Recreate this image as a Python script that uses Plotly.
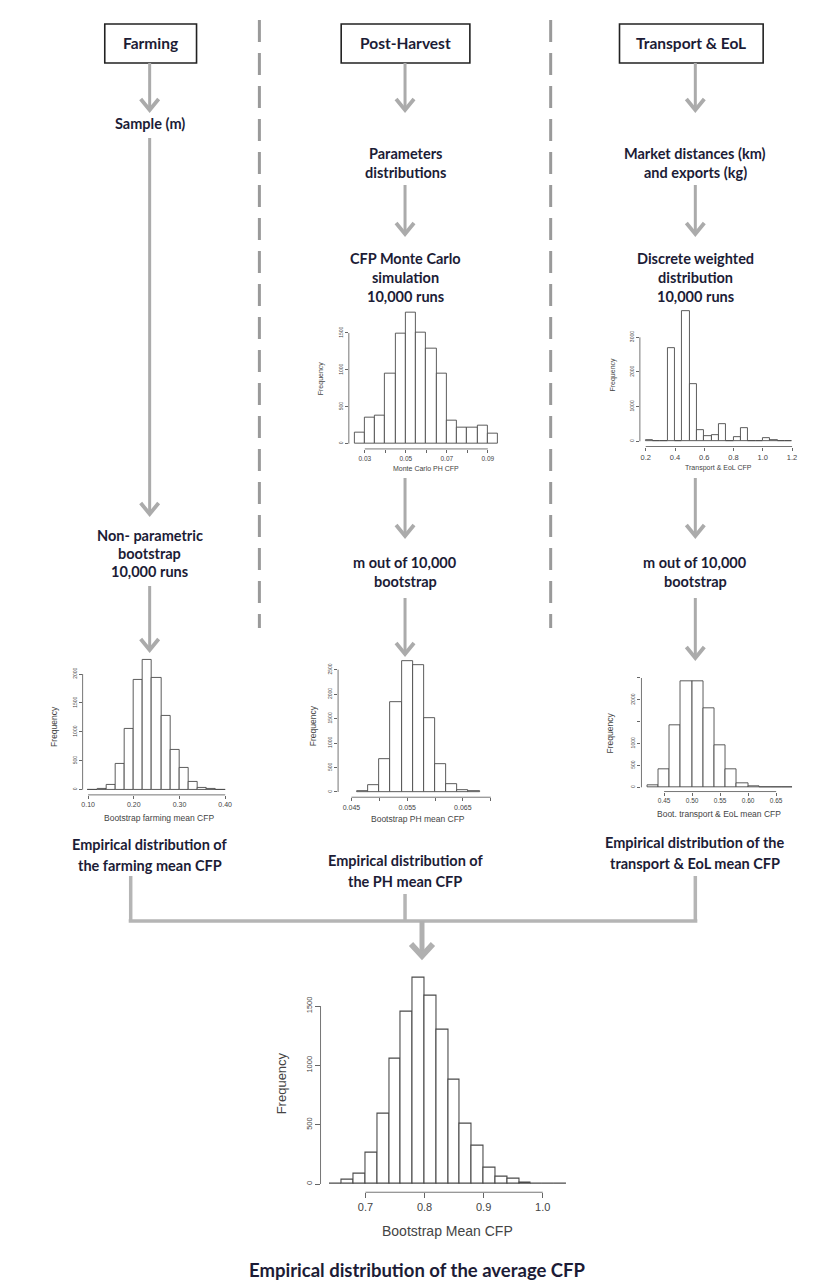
import plotly.graph_objects as go

W, H = 819, 1280

# ------------------------------------------------------------------ data
# Monte Carlo PH CFP (top, post-harvest)
ph_mc_edges = [0.025, 0.030, 0.035, 0.040, 0.045, 0.050, 0.055, 0.060, 0.065, 0.070, 0.075, 0.080, 0.085, 0.090]
ph_mc_counts = [145, 360, 382, 955, 1486, 1773, 1509, 1291, 955, 318, 223, 223, 245, 136]
ph_mc_w = 0.005
ph_mc_xticks = [0.03, 0.04, 0.05, 0.06, 0.07, 0.08, 0.09]
ph_mc_xlabels = ["0.03", "", "0.05", "", "0.07", "", "0.09"]
ph_mc_yticks = [0, 500, 1000, 1500]

# Transport & EoL CFP (top, transport)
tr_mc_edges = [0.20, 0.25, 0.30, 0.35, 0.40, 0.45, 0.50, 0.55, 0.60, 0.65,
               0.70, 0.75, 0.80, 0.85, 0.90, 0.95, 1.00, 1.05, 1.10, 1.15]
tr_mc_counts = [40, 10, 0, 2692, 15, 3750, 1654, 337, 163, 192,
                510, 20, 115, 385, 20, 5, 96, 48, 5, 5]
tr_mc_w = 0.05
tr_mc_xticks = [0.2, 0.4, 0.6, 0.8, 1.0, 1.2]
tr_mc_xlabels = ["0.2", "0.4", "0.6", "0.8", "1.0", "1.2"]
tr_mc_yticks = [0, 1000, 2000, 3000]

# Bootstrap farming mean CFP
fa_bs_edges = [0.10, 0.12, 0.14, 0.16, 0.18, 0.20, 0.22, 0.24, 0.26, 0.28, 0.30, 0.32, 0.34, 0.36, 0.38]
fa_bs_counts = [5, 12, 86, 443, 1046, 1897, 2241, 1925, 1276, 690, 385, 144, 40, 12, 3]
fa_bs_w = 0.02
fa_bs_xticks = [0.10, 0.20, 0.30, 0.40]
fa_bs_xlabels = ["0.10", "0.20", "0.30", "0.40"]
fa_bs_yticks = [0, 500, 1000, 1500, 2000]

# Bootstrap PH mean CFP
ph_bs_edges = [0.046, 0.048, 0.050, 0.052, 0.054, 0.056, 0.058, 0.060, 0.062, 0.064, 0.066]
ph_bs_counts = [15, 137, 664, 1829, 2671, 2596, 1507, 562, 171, 48, 10]
ph_bs_w = 0.002
ph_bs_xticks = [0.045, 0.050, 0.055, 0.060, 0.065, 0.070]
ph_bs_xlabels = ["0.045", "", "0.055", "", "0.065", ""]
ph_bs_yticks = [0, 500, 1000, 1500, 2000, 2500]

# Boot. transport & EoL mean CFP
tr_bs_edges = [0.42, 0.44, 0.46, 0.48, 0.50, 0.52, 0.54, 0.56, 0.58, 0.60, 0.62, 0.64, 0.66]
tr_bs_counts = [46, 404, 1420, 2420, 2420, 1800, 953, 404, 99, 23, 8, 4, 3]
tr_bs_w = 0.02
tr_bs_xticks = [0.45, 0.50, 0.55, 0.60, 0.65]
tr_bs_xlabels = ["0.45", "0.50", "0.55", "0.60", "0.65"]
tr_bs_yticks = [0, 500, 1000, 1500, 2000, 2500]
tr_bs_ylabels = ["0", "500", "1000", "", "2000", ""]

# Bootstrap Mean CFP (final)
all_edges = [0.64, 0.66, 0.68, 0.70, 0.72, 0.74, 0.76, 0.78, 0.80, 0.82,
             0.84, 0.86, 0.88, 0.90, 0.92, 0.94, 0.96, 0.98, 1.00, 1.02]
all_counts = [3, 36, 87, 264, 596, 1054, 1456, 1737, 1588, 1301,
              879, 511, 324, 141, 59, 42, 8, 3, 1, 1]
all_w = 0.02
all_xticks = [0.7, 0.8, 0.9, 1.0]
all_xlabels = ["0.7", "0.8", "0.9", "1.0"]
all_yticks = [0, 500, 1000, 1500]

# ------------------------------------------------------------------ helpers
def px(x):
    return x / W


def py(y):
    return 1 - y / H


def xdomain(va, pa, vb, pb, lo, hi):
    s = (pb - pa) / (vb - va)
    return [(pa + (lo - va) * s) / W, (pa + (hi - va) * s) / W]


def ydomain(p0, vt, pt, lo, hi):
    s = (p0 - pt) / vt
    return [1 - (p0 - lo * s) / H, 1 - (p0 - hi * s) / H]


fig = go.Figure()
shapes = []
annotations = []
HFONT = "Liberation Sans, Arial, sans-serif"
TFONT = "Lato, Open Sans, sans-serif"
TCOL = "#1c1c36"
GREY = "#ababab"


def add_hist(idx, edges, counts, w, xt, xl, yt, yl, xcal, ycal, xrng=None,
             fs_x=6.5, fs_y=5, tlen=3, lw=0.9):
    xa = "x" if idx == 1 else "x%d" % idx
    ya = "y" if idx == 1 else "y%d" % idx
    centers = [e + w / 2 for e in edges]
    fig.add_trace(go.Bar(x=centers, y=counts, width=[w] * len(edges),
                         marker=dict(color="white", line=dict(color="#4a4a4a", width=lw)),
                         xaxis=xa, yaxis=ya, hoverinfo="skip"))
    span = edges[-1] + w - edges[0]
    if xrng is None:
        xrng = [edges[0] - 0.04 * span, edges[-1] + w + 0.04 * span]
    m = max(counts)
    yrng = [-0.04 * m, 1.04 * m]
    xd = xdomain(xcal[0], xcal[1], xcal[2], xcal[3], xrng[0], xrng[1])
    yd = ydomain(ycal[0], ycal[1], ycal[2], yrng[0], yrng[1])
    common = dict(showgrid=False, zeroline=False, showline=False, ticks="outside",
                  ticklen=tlen, tickwidth=0.8, tickcolor="#666", tickmode="array",
                  fixedrange=True)
    fig.update_layout(**{
        ("xaxis" if idx == 1 else "xaxis%d" % idx): dict(
            domain=xd, range=xrng, anchor=ya, tickvals=xt, ticktext=xl,
            tickfont=dict(size=fs_x, color="#444", family=HFONT), **common),
        ("yaxis" if idx == 1 else "yaxis%d" % idx): dict(
            domain=yd, range=yrng, anchor=xa, tickvals=yt, ticktext=yl, tickangle=-90,
            tickfont=dict(size=fs_y, color="#444", family=HFONT), **common),
    })
    shapes.append(dict(type="line", xref=xa, yref=ya + " domain", x0=xt[0], x1=xt[-1],
                       y0=0, y1=0, line=dict(color="#666", width=0.9)))
    shapes.append(dict(type="line", xref=xa + " domain", yref=ya, x0=0, x1=0,
                       y0=yt[0], y1=yt[-1], line=dict(color="#666", width=0.9)))


def label(x, y, text, size, color="#444", family=HFONT, angle=0, bold=False):
    if bold:
        text = "<b>%s</b>" % text
    annotations.append(dict(x=px(x), y=py(y), xref="paper", yref="paper", text=text,
                            showarrow=False, xanchor="center", yanchor="middle",
                            textangle=angle, font=dict(size=size, color=color, family=family)))


def ctext(x, y, text, size=14.5):
    label(x, y, text, size, color=TCOL, family=TFONT, bold=True)


def arrow(x, y0, y1, w=3, hw=9, hh=11, color=GREY):
    shapes.append(dict(type="path", xref="paper", yref="paper",
                       path="M %f,%f L %f,%f" % (px(x), py(y0), px(x), py(y1 - 2)),
                       line=dict(color=color, width=w)))
    shapes.append(dict(type="path", xref="paper", yref="paper",
                       path="M %f,%f L %f,%f L %f,%f" % (px(x - hw), py(y1 - hh), px(x), py(y1),
                                                       px(x + hw), py(y1 - hh)),
                       line=dict(color=color, width=w + 0.8)))


def seg(x0, y0, x1, y1, w=3.5, color="#b5b5b5"):
    shapes.append(dict(type="line", xref="paper", yref="paper", x0=px(x0), y0=py(y0),
                       x1=px(x1), y1=py(y1), line=dict(color=color, width=w)))


# ------------------------------------------------------------------ histograms
str_list = lambda v: [str(t) for t in v]

add_hist(1, ph_mc_edges, ph_mc_counts, ph_mc_w, ph_mc_xticks, ph_mc_xlabels,
         ph_mc_yticks, str_list(ph_mc_yticks), (0.03, 356.7, 0.09, 480.0), (435.7, 1500, 325.0))
add_hist(2, tr_mc_edges, tr_mc_counts, tr_mc_w, tr_mc_xticks, tr_mc_xlabels,
         tr_mc_yticks, str_list(tr_mc_yticks), (0.2, 638.3, 1.2, 785.0), (433.3, 3000, 329.3),
         fs_x=7.5)
add_hist(3, fa_bs_edges, fa_bs_counts, fa_bs_w, fa_bs_xticks, fa_bs_xlabels,
         fa_bs_yticks, str_list(fa_bs_yticks), (0.10, 79.3, 0.40, 216.7), (781.7, 2000, 666.0),
         fs_x=7)
add_hist(4, ph_bs_edges, ph_bs_counts, ph_bs_w, ph_bs_xticks, ph_bs_xlabels,
         ph_bs_yticks, str_list(ph_bs_yticks), (0.045, 343.3, 0.065, 455.0), (784.0, 2500, 661.7),
         xrng=[0.0426, 0.0705], fs_x=7)
add_hist(5, tr_bs_edges, tr_bs_counts, tr_bs_w, tr_bs_xticks, tr_bs_xlabels,
         tr_bs_yticks, tr_bs_ylabels, (0.45, 656.7, 0.65, 769.0), (779.3, 2500, 670.0),
         fs_x=6.5)
add_hist(6, all_edges, all_counts, all_w, all_xticks, all_xlabels,
         all_yticks, str_list(all_yticks), (0.7, 357.3, 1.0, 535.0), (1176.0, 1500, 998.0),
         fs_x=11, fs_y=7.5, tlen=5, lw=1.1)

# axis titles
label(313, 370, "Frequency", 7, angle=-90)
label(418, 461, "Monte Carlo PH CFP", 7)
label(605, 367, "Frequency", 7, angle=-90)
label(711, 460, "Transport &amp; EoL CFP", 7)
label(45, 718, "Frequency", 8.5, angle=-90)
label(150, 810, "Bootstrap farming mean CFP", 8.5)
label(305, 718, "Frequency", 8.5, angle=-90)
label(410, 811, "Bootstrap PH mean CFP", 8.5)
label(602, 725, "Frequency", 8.5, angle=-90)
label(712, 806, "Boot. transport &amp; EoL mean CFP", 8.5)
label(273, 1075, "Frequency", 13, angle=-90)
label(440, 1223, "Bootstrap Mean CFP", 14)

# ------------------------------------------------------------------ diagram
# dashed separators
for xd in (251, 543):
    shapes.append(dict(type="line", xref="paper", yref="paper", x0=px(xd), x1=px(xd),
                       y0=py(12), y1=py(620), line=dict(color="#9a9a9a", width=3, dash="22px,11px")))

# header boxes
for (x0, x1, txt) in [(96, 188, "Farming"), (333, 462, "Post-Harvest"), (612, 756, "Transport &amp; EoL")]:
    shapes.append(dict(type="rect", xref="paper", yref="paper", x0=px(x0), x1=px(x1),
                       y0=py(16), y1=py(55), line=dict(color="#222", width=1.6)))
    ctext((x0 + x1) / 2, 35.5, txt, 15.5)

CF, CP, CT = 141, 397, 688

# farming column
arrow(CF, 55, 102)
ctext(CF, 116, "Sample (m)")
arrow(CF, 130, 506)
ctext(CF, 527, "Non- parametric")
ctext(CF, 545, "bootstrap")
ctext(CF, 563, "10,000 runs")
arrow(CF, 578, 642)

# post-harvest column
arrow(CP, 55, 102)
ctext(CP, 145, "Parameters")
ctext(CP, 164, "distributions")
arrow(CP, 177, 226)
ctext(CP, 250, "CFP Monte Carlo")
ctext(CP, 269, "simulation")
ctext(CP, 288, "10,000 runs")
arrow(CP, 470, 528)
ctext(CP, 554, "m out of 10,000")
ctext(CP, 573, "bootstrap")
arrow(CP, 590, 646)

# transport column
arrow(CT, 55, 102)
ctext(CT, 145, "Market distances (km)")
ctext(CT, 164, "and exports (kg)")
arrow(CT, 177, 226)
ctext(CT, 250, "Discrete weighted")
ctext(CT, 269, "distribution")
ctext(CT, 288, "10,000 runs")
arrow(CT, 470, 528)
ctext(CT, 554, "m out of 10,000")
ctext(CT, 573, "bootstrap")
arrow(CT, 590, 650)

# captions of middle row
ctext(CF, 836, "Empirical distribution of")
ctext(CF, 857, "the farming mean CFP")
ctext(CP, 852, "Empirical distribution of")
ctext(CP, 873, "the PH mean CFP")
ctext(CT, 834, "Empirical distribution of the")
ctext(CT, 855, "transport &amp; EoL mean CFP")

# connectors
seg(122, 868, 122, 913)
seg(CP, 886, CP, 913)
seg(CT, 868, CT, 913)
seg(120, 913, 690, 913)
arrow(414, 913, 948, w=5, hw=11, hh=12, color="#b0b0b0")

# final caption
ctext(410, 1262, "Empirical distribution of the average CFP", 18.5)

fig.update_layout(width=W, height=H, margin=dict(l=0, r=0, t=0, b=0),
                  paper_bgcolor="white", plot_bgcolor="white", showlegend=False,
                  shapes=shapes, annotations=annotations, bargap=0)

fig.write_html("out.html")
